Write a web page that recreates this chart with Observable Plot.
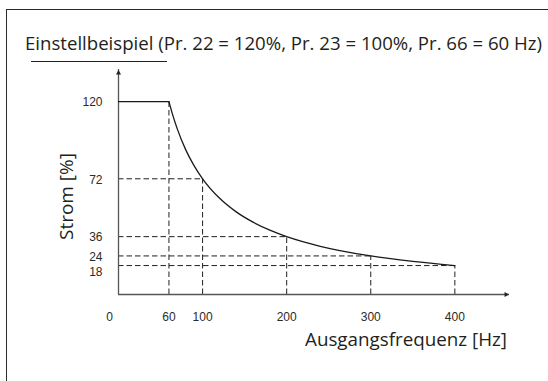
<!DOCTYPE html>
<html><head><meta charset="utf-8">
<script src="https://cdn.jsdelivr.net/npm/d3@7"></script>
<script src="https://cdn.jsdelivr.net/npm/@observablehq/plot@0.6"></script>
<style>
html,body{margin:0;padding:0;background:#fff;}
body{width:548px;height:381px;overflow:hidden;position:relative;color:#231f20;}
#frame{position:absolute;left:6px;top:8.5px;width:600px;height:420px;border-top:1.7px solid #2a2a2a;border-left:1.7px solid #2a2a2a;}
#head{position:absolute;left:0;top:0;}
#chart{position:absolute;left:0;top:65px;}
</style></head><body>
<div id="frame"></div>
<svg id="head" width="548" height="65"></svg>
<div id="chart"></div>
<script>
// ---- data ----
const titleText = "Einstellbeispiel (Pr. 22 = 120%, Pr. 23 = 100%, Pr. 66 = 60 Hz)";
const xLabel = "Ausgangsfrequenz [Hz]";
const yLabel = "Strom [%]";
const plateauFreq = [0, 60];
const plateauCurrent = [120, 120];
const curveFreq = [60, 65, 70, 80, 90, 100, 120, 140, 160, 180, 200, 240, 300, 350, 400];
const curveCurrent = [120, 110.8, 102.9, 90, 80, 72, 60, 51.4, 45, 40, 36, 30, 24, 20.6, 18];
const markFreq = [60, 100, 200, 300, 400];
const markCurrent = [120, 72, 36, 24, 18];
const xTickLabels = [0, 60, 100, 200, 300, 400];
const yTickLabels = [120, 72, 36, 24, 18];
const xMax = 465, yMax = 140;

const plateau = plateauFreq.map((f, i) => ({f, c: plateauCurrent[i]}));
const curve = curveFreq.map((f, i) => ({f, c: curveCurrent[i]}));
const marks = markFreq.map((f, i) => ({f, c: markCurrent[i]}));

const ink = "#231f20";
const dash = "5.5,3";
const tickFont = {fontFamily: "Liberation Sans, Arial, sans-serif", fontSize: 12, fill: "#2b2b2b"};

const plot = Plot.plot({
  width: 548, height: 316,
  marginLeft: 118, marginRight: 39, marginTop: 4, marginBottom: 87,
  x: {domain: [0, xMax], axis: null},
  y: {domain: [0, yMax], axis: null},
  style: {background: "transparent", overflow: "visible"},
  marks: [
    Plot.ruleX(marks, {x: "f", y1: () => 0, y2: "c", stroke: ink, strokeWidth: 1, strokeDasharray: dash}),
    Plot.ruleY(marks.filter(d => d.f !== 60), {y: "c", x1: () => 0, x2: "f", stroke: ink, strokeWidth: 1, strokeDasharray: dash}),
    Plot.ruleY([0], {stroke: "#555", strokeWidth: 1.3}),
    Plot.ruleX([0], {stroke: "#555", strokeWidth: 1.3}),
    Plot.dot([xMax], {x: d => d, y: () => 0, symbol: "triangle2", r: 2.4, rotate: 90, fill: "#222", stroke: null, dx: -3.5}),
    Plot.dot([yMax], {x: () => 0, y: d => d, symbol: "triangle2", r: 2.4, fill: "#222", stroke: null, dy: 3.5}),
    Plot.line(plateau, {x: "f", y: "c", stroke: "#1a1a1a", strokeWidth: 1.3}),
    Plot.line(curve, {x: "f", y: "c", curve: "monotone-x", stroke: "#1a1a1a", strokeWidth: 1.3}),
    Plot.text(xTickLabels.filter(d => d !== 0), {x: d => d, y: () => 0, text: d => String(d), dy: 23, ...tickFont}),
    Plot.text(xTickLabels.filter(d => d === 0), {x: d => d, y: () => 0, text: d => String(d), dy: 23, dx: -9, ...tickFont}),
    Plot.text(yTickLabels.filter(d => d !== 18), {x: () => 0, y: d => d, text: d => String(d), textAnchor: "end", dx: -16, dy: 1, ...tickFont}),
    Plot.text(yTickLabels.filter(d => d === 18), {x: () => 0, y: d => d, text: d => String(d), textAnchor: "end", dx: -16, dy: 6.5, ...tickFont})
  ]
});
document.getElementById("chart").appendChild(plot);

const labelFont = "'Open Sans', 'Noto Sans', sans-serif";
// keep the reference's letter height and match its text width
function fit(sel, target) {
  sel.attr("textLength", target).attr("lengthAdjust", "spacingAndGlyphs");
}

const head = d3.select("#head");
const t = head.append("text").attr("x", 25).attr("y", 50)
  .attr("font-family", labelFont).attr("font-size", 18).attr("fill", ink).text(titleText);
fit(t, 517);
head.append("line").attr("x1", 31).attr("x2", 167).attr("y1", 61.5).attr("y2", 61.5)
  .attr("stroke", "#222").attr("stroke-width", 1.2);

const svg = d3.select(plot);
const xl = svg.append("text").attr("x", 507).attr("y", 281).attr("text-anchor", "end")
  .attr("font-family", labelFont).attr("font-size", 17.5).attr("fill", ink).text(xLabel);
fit(xl, 202);
const yl = svg.append("text").attr("text-anchor", "middle")
  .attr("transform", "translate(73,131.5) rotate(-90)")
  .attr("font-family", labelFont).attr("font-size", 17.5).attr("fill", ink).text(yLabel);
fit(yl, 87);
</script>
</body></html>
